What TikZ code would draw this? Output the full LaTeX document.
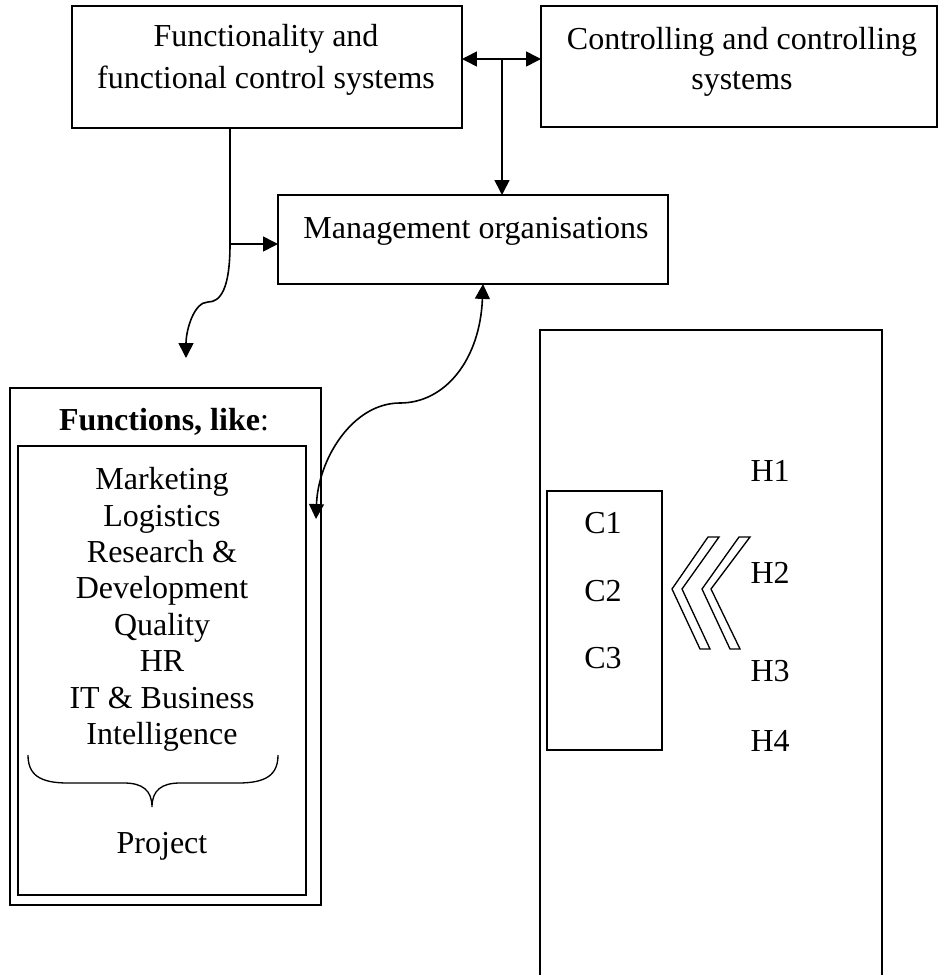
\documentclass[tikz,border=0pt]{standalone}
\usepackage{fontspec}
\setmainfont{Liberation Serif}
\usetikzlibrary{arrows.meta}
\begin{document}
\begin{tikzpicture}[
    x=0.375pt, y=-0.375pt,
    every node/.style={font=\fontsize{12}{13.65}\selectfont},
    caixa/.style={draw,line width=0.6pt,inner sep=0pt,outer sep=0pt},
    rotulo/.style={inner sep=0pt,align=center},
    seta/.style={line width=0.6pt,-{Triangle[length=5.6pt,width=5.6pt]}},
    dupla/.style={line width=0.6pt,{Triangle[length=5.6pt,width=5.6pt]}-{Triangle[length=5.6pt,width=5.6pt]}},
    divisa/.style={line width=0.5pt,line join=miter}
]
\useasboundingbox (0,0) rectangle (948,975);
\clip (0,0) rectangle (948,975);

% caixas de cima
\node[caixa,minimum width=146.25pt,minimum height=45.75pt] (fun) at (267,67) {};
\node[caixa,minimum width=148.5pt,minimum height=45.375pt] (ctrl) at (739,66.5) {};
\node[caixa,minimum width=146.25pt,minimum height=33.375pt] (mgmt) at (473,239.5) {};
\node[rotulo,anchor=north,font=\fontsize{12}{15.75}\selectfont] (funtxt) at (266,24) {Functionality and\\functional control systems};
\node[rotulo,anchor=north,font=\fontsize{12}{15}\selectfont] (ctrltxt) at (742,27) {Controlling and controlling\\systems};
\node[rotulo,anchor=base] (mgmttxt) at (476,238) {Management organisations};

% funcoes
\node[caixa,minimum width=116.625pt,minimum height=193.875pt] (func) at (165.5,646.5) {};
\node[caixa,minimum width=108pt,minimum height=168.375pt] (funcin) at (162,670.5) {};
\node[rotulo,anchor=base] (functxt) at (164,430) {\textbf{Functions, like}:};
\node[rotulo,anchor=north] (lista) at (162,467) {Marketing\\Logistics\\Research \&\\Development\\Quality\\HR\\IT \& Business\\Intelligence};
\node[rotulo,anchor=base] (proj) at (162,853) {Project};
\draw[line width=0.5pt] (28,755) .. controls (28,775) and (40,783) .. (68,783) -- (124,783)
    .. controls (142,783) and (152,790) .. (152,807)
    .. controls (152,790) and (162,783) .. (180,783) -- (238,783)
    .. controls (266,783) and (278,775) .. (278,755);

% caixa da direita
\node[caixa,minimum width=128.25pt,minimum height=251.25pt] (ger) at (711,665) {};
\node[caixa,minimum width=43.125pt,minimum height=97.125pt] (cbox) at (604.5,620.5) {};
\node[rotulo,anchor=base] (c1) at (603,533) {C1};
\node[rotulo,anchor=base] (c2) at (603,601) {C2};
\node[rotulo,anchor=base] (c3) at (603,668) {C3};
\node[rotulo,anchor=base west] (h1) at (750,481) {H1};
\node[rotulo,anchor=base west] (h2) at (750,583) {H2};
\node[rotulo,anchor=base west] (h3) at (750,681) {H3};
\node[rotulo,anchor=base west] (h4) at (750,751) {H4};
\draw[divisa] (672,589) -- (708,537) -- (719,537) -- (682,589) -- (710,649) -- (700,649) -- cycle;
\draw[divisa] (702,589) -- (739,537) -- (750,537) -- (711,589) -- (740,649) -- (730,649) -- cycle;

% ligacoes
\coordinate (dbl) at (502,59);
\coordinate (split) at (230,244);
\coordinate (ftip) at (186,358);
\coordinate (mtop) at (483,284);
\coordinate (fend) at (316,519);
\draw[dupla] (fun.east |- dbl) -- (ctrl.west |- dbl);
\draw[seta] (dbl) -- (mgmt.north -| dbl);
\draw[line width=0.6pt] (fun.south -| split) -- (split);
\draw[seta] (split) -- (mgmt.west |- split);
\draw[seta] (split) .. controls (230,290) and (220,302) .. (208,302) .. controls (194,302) and (186,330) .. (ftip);
\draw[dupla] (mgmt.south -| mtop) .. controls (480,360) and (445,403) .. (400,403) .. controls (352,403) and (318,460) .. (fend);
\end{tikzpicture}
\end{document}
